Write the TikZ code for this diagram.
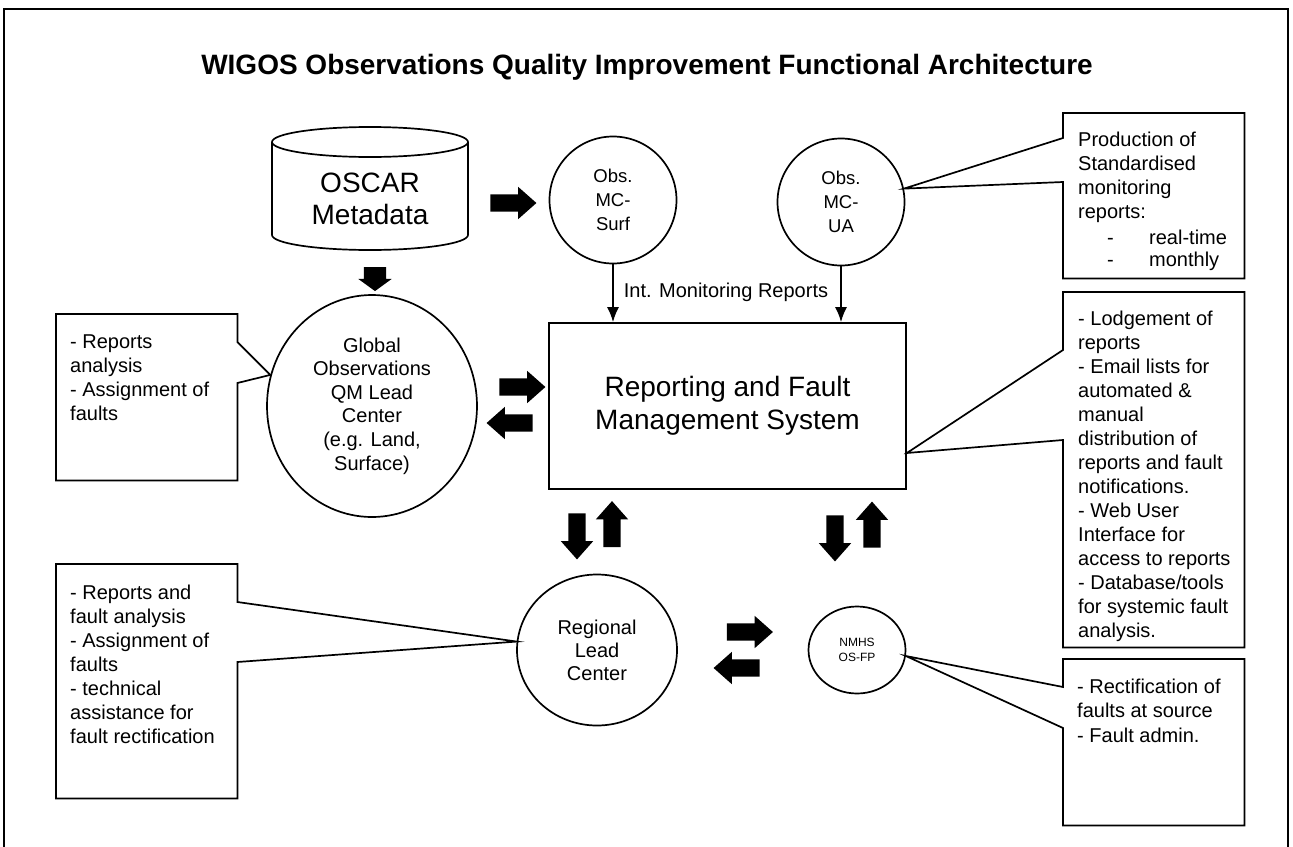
\documentclass[tikz,border=0pt]{standalone}
\usepackage{fontspec}
\setmainfont{Liberation Sans}
\usepackage{tikz}
\usetikzlibrary{shapes.geometric}
\usetikzlibrary{shapes.arrows}
\usetikzlibrary{arrows.meta}
\tikzset{rim/.style={line width=1.7pt},
 bubble/.style={draw,rim,circle,inner sep=0pt,align=center},
 oval/.style={draw,rim,ellipse,inner sep=0pt,align=center},
 notebox/.style={minimum width=181pt,inner sep=0pt,anchor=north west},
 notetext/.style={inner sep=0pt,anchor=north west,align=left},
 blockarrow/.style={single arrow,fill=black,inner xsep=0pt,inner ysep=8.5pt,minimum height=46pt,
   minimum width=32pt,single arrow head extend=7.5pt,single arrow tip angle=83},
 bigfont/.style={font=\fontsize{28}{32.5}\selectfont},
 notefont/.style={font=\fontsize{20}{24}\selectfont},
 circfont/.style={font=\fontsize{18.5}{24}\selectfont},
 nmhsfont/.style={font=\fontsize{12}{15}\selectfont},
 }

\begin{document}
\begin{tikzpicture}[x=1pt,y=-1pt]
    \useasboundingbox (0,0) rectangle (1293,846);
    \draw[rim] (4,870) -- (4,9) -- (1288,9) -- (1288,870);
    \node[font=\bfseries\fontsize{28}{33}\selectfont] (title) at (647,67)
        {WIGOS Observations Quality Improvement Functional Architecture};

    % metadata store
    \node[bigfont,align=center] (oscar) at (370,199) {OSCAR\\Metadata};
    \draw[rim] (272,142) -- (272,235) arc[start angle=180,end angle=0,x radius=98,y radius=15] -- (468,142);
    \draw[rim] (370,142) ellipse[x radius=98,y radius=15];

    % centres
    \node[bubble,circfont,minimum size=127pt] (surf) at (613,200) {Obs.\\MC-\\Surf};
    \node[bubble,circfont,minimum size=127pt] (ua) at (841,202) {Obs.\\MC-\\UA};
    \node[oval,minimum width=210pt,minimum height=222pt,font=\fontsize{20}{23.6}\selectfont] (glob) at (372,406)
        {Global\\Observations\\QM Lead\\Center\\(e.g. Land,\\Surface)};
    \node[oval,minimum width=160pt,minimum height=151pt,font=\fontsize{20}{23}\selectfont] (reg) at (597,650) {Regional\\Lead\\Center};
    \node[oval,nmhsfont,minimum width=97pt,minimum height=87pt] (nmhs) at (857,650) {NMHS\\OS-FP};
    \node[draw,rim,bigfont,align=center,minimum width=357pt,minimum height=166pt] (rfms) at (727.5,406)
        {Reporting and Fault\\Management System};

    % monitoring reports
    \draw[rim,-{Latex[length=15pt,width=12pt]}] (surf) -- (surf |- rfms.north);
    \draw[rim,-{Latex[length=15pt,width=12pt]}] (ua) -- (ua |- rfms.north);
    \node[notefont] (intrep) at (726,292) {Int. Monitoring Reports};

    % block arrows
    \node[blockarrow,rotate=-90,minimum height=24pt,minimum width=33pt,inner ysep=11pt,single arrow head extend=5.5pt,single arrow tip angle=108] (a1) at (375,275) {};
    \node[blockarrow] (a2) at (508.5,203) {};
    \node[blockarrow] (a3) at (517.5,387) {};
    \node[blockarrow,rotate=180] (a4) at (514.5,423) {};
    \node[blockarrow,rotate=-90] (a5) at (577,531.5) {};
    \node[blockarrow,rotate=90] (a6) at (612,529) {};
    \node[blockarrow,rotate=-90] (a7) at (835,533.5) {};
    \node[blockarrow,rotate=90] (a8) at (872,529.5) {};
    \node[blockarrow] (a9) at (745,632) {};
    \node[blockarrow,rotate=180] (a10) at (741.5,668) {};

    % callouts
    \node[notebox,minimum height=166pt] (globnote) at (56,314) {};
    \node[notetext,notefont] (globtxt) at (70,334.5) {- Reports\\analysis\\- Assignment of\\faults};
    \draw[rim] (globnote.north west) -- (globnote.north east) -- (globnote.east |- 0,342) -- (glob.163)
        -- (globnote.east |- 0,383) -- (globnote.south east) -- (globnote.south west) -- cycle;

    \node[notebox,minimum height=234pt] (regnote) at (56,564) {};
    \node[notetext,notefont] (regtxt) at (70,584.5)
        {- Reports and\\fault analysis\\- Assignment of\\faults\\- technical\\assistance for\\fault rectification};
    \draw[rim] (regnote.north west) -- (regnote.north east) -- (regnote.east |- 0,602) -- (reg.174)
        -- (regnote.east |- 0,662) -- (regnote.south east) -- (regnote.south west) -- cycle;

    \node[notebox,minimum height=165pt] (prodnote) at (1063,113) {};
    \node[notetext,notefont] (prodtxt) at (1078,131.5)
        {Production of\\Standardised\\monitoring\\reports:\\[2pt]
         \hspace*{29pt}\makebox[42pt][l]{-}real-time\\[-2pt]
         \hspace*{29pt}\makebox[42pt][l]{-}monthly};
    \draw[rim] (prodnote.north east) -- (prodnote.north west) -- (prodnote.west |- 0,138) -- (ua.12)
        -- (prodnote.west |- 0,182) -- (prodnote.south west) -- (prodnote.south east) -- cycle;

    \node[notebox,minimum height=355pt] (lodgnote) at (1063,292) {};
    \node[notetext,notefont] (lodgtxt) at (1078,310.5)
        {- Lodgement of\\reports\\- Email lists for\\automated \&\\manual\\distribution of\\reports and fault\\notifications.\\- Web User\\Interface for\\access to reports\\- Database/tools\\for systemic fault\\analysis.};
    \draw[rim] (lodgnote.north east) -- (lodgnote.north west) -- (lodgnote.west |- 0,350) -- ([yshift=-47pt]rfms.east)
        -- (lodgnote.west |- 0,440) -- (lodgnote.south west) -- (lodgnote.south east) -- cycle;

    \node[notebox,minimum height=166pt] (fixnote) at (1063,659) {};
    \node[notetext,font=\fontsize{20}{24.5}\selectfont] (fixtxt) at (1077,678.5)
        {- Rectification of\\faults at source\\- Fault admin.};
    \draw[rim] (fixnote.north east) -- (fixnote.north west) -- (fixnote.west |- 0,687) -- (nmhs.-7)
        -- (fixnote.west |- 0,728) -- (fixnote.south west) -- (fixnote.south east) -- cycle;
\end{tikzpicture}
\end{document}
